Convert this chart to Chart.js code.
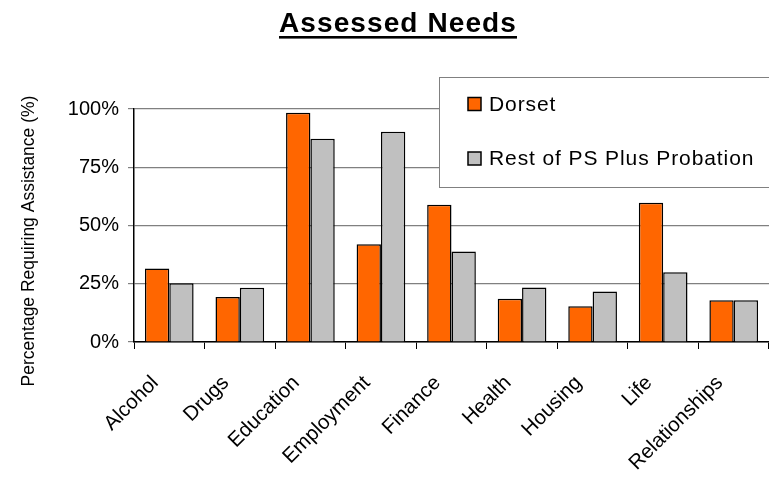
<!DOCTYPE html>
<html>
<head>
<meta charset="utf-8">
<script src="https://cdn.jsdelivr.net/npm/chart.js@4/dist/chart.umd.min.js"></script>
<style>
  html, body { margin: 0; padding: 0; background: #fff; }
  #wrap { width: 769px; height: 481px; }
</style>
</head>
<body>
<div id="wrap"><canvas id="c" width="769" height="481"></canvas></div>
<script>
const TITLE = 'Assessed Needs';
const Y_TITLE = 'Percentage Requiring Assistance (%)';
const categories = ['Alcohol', 'Drugs', 'Education', 'Employment', 'Finance', 'Health', 'Housing', 'Life', 'Relationships'];
const seriesNames = ['Dorset', 'Rest of PS Plus Probation'];
const dorset = [31.5, 19.3, 98.4, 41.9, 58.9, 18.6, 15.3, 59.8, 17.9];
const restOfPS = [25.2, 23.3, 87.2, 90.2, 38.8, 23.4, 21.7, 29.9, 17.9];
const yTicks = [0, 25, 50, 75, 100];

const FONT = '"Liberation Sans", Arial, sans-serif';

const textPlugin = {
  id: 'extraText',
  afterDraw(chart) {
    const ctx = chart.ctx;
    // Title with underline
    ctx.save();
    ctx.font = 'bold 28px ' + FONT;
    ctx.fillStyle = '#000';
    ctx.textAlign = 'center';
    ctx.textBaseline = 'alphabetic';
    try { ctx.letterSpacing = '1.1px'; } catch (e) {}
    const cx = 398, by = 32;
    ctx.fillText(TITLE, cx, by);
    const w = ctx.measureText(TITLE).width;
    ctx.fillRect(cx - w / 2, by + 4, w, 2.6);
    ctx.restore();

    // Y axis title
    ctx.save();
    ctx.font = '17.5px ' + FONT;
    ctx.fillStyle = '#000';
    ctx.textAlign = 'center';
    ctx.textBaseline = 'middle';
    ctx.translate(29, 241);
    ctx.rotate(-Math.PI / 2);
    ctx.fillText(Y_TITLE, 0, 0);
    ctx.restore();
  }
};

const legendPlugin = {
  id: 'boxLegend',
  afterDraw(chart) {
    const ctx = chart.ctx;
    ctx.save();
    const x = 439.5, y = 77.5, w = 340, h = 110;
    ctx.fillStyle = '#fff';
    ctx.fillRect(x, y, w, h);
    ctx.strokeStyle = '#808080';
    ctx.lineWidth = 1;
    ctx.strokeRect(x, y, w, h);
    ctx.font = '21px ' + FONT;
    ctx.textBaseline = 'middle';
    try { ctx.letterSpacing = '0.9px'; } catch (e) {}
    chart.data.datasets.forEach((ds, i) => {
      const ry = 104 + i * 54.5;
      ctx.fillStyle = ds.backgroundColor;
      ctx.fillRect(468, ry - 6.5, 13, 13);
      ctx.strokeStyle = '#000';
      ctx.lineWidth = 1.5;
      ctx.strokeRect(468, ry - 6.5, 13, 13);
      ctx.fillStyle = '#000';
      ctx.fillText(ds.label, 489, ry + 1);
    });
    ctx.restore();
  }
};

new Chart(document.getElementById('c'), {
  type: 'bar',
  data: {
    labels: categories,
    datasets: [
      { label: seriesNames[0], data: dorset, backgroundColor: '#FF6600', borderColor: '#000', borderWidth: 1.5, borderSkipped: 'bottom' },
      { label: seriesNames[1], data: restOfPS, backgroundColor: '#C0C0C0', borderColor: '#000', borderWidth: 1.5, borderSkipped: 'bottom' }
    ]
  },
  options: {
    responsive: false,
    animation: false,
    devicePixelRatio: 1,
    layout: { padding: { top: 109, left: 0, right: -1, bottom: 0 } },
    datasets: { bar: { categoryPercentage: 0.69, barPercentage: 1.0 } },
    plugins: {
      legend: { display: false },
      title: { display: false },
      tooltip: { enabled: false }
    },
    scales: {
      x: {
        type: 'category',
        offset: true,
        grid: { display: true, drawOnChartArea: false, drawTicks: true, offset: true, tickLength: 7, color: '#000', lineWidth: 1 },
        border: { display: true, color: '#000', width: 1.5 },
        ticks: { color: '#000', font: { family: FONT, size: 20.5 }, maxRotation: 45, minRotation: 45, autoSkip: false, padding: 22, labelOffset: -14 },
        afterFit(scale) { scale.height = 139; scale.paddingRight = 0; scale.paddingLeft = 0; }
      },
      y: {
        min: 0,
        max: 100,
        afterBuildTicks(scale) { scale.ticks = yTicks.map(v => ({ value: v })); },
        ticks: { color: '#000', font: { family: FONT, size: 20 }, padding: 9, callback: v => v + '%' },
        grid: { color: '#808080', lineWidth: 1.2, tickLength: 6, drawTicks: true },
        border: { display: true, color: '#000', width: 1.5 },
        title: { display: false },
        afterFit(scale) { scale.width = 134; scale.paddingTop = 0; scale.paddingBottom = 0; }
      }
    }
  },
  plugins: [textPlugin, legendPlugin]
});
</script>
</body>
</html>
